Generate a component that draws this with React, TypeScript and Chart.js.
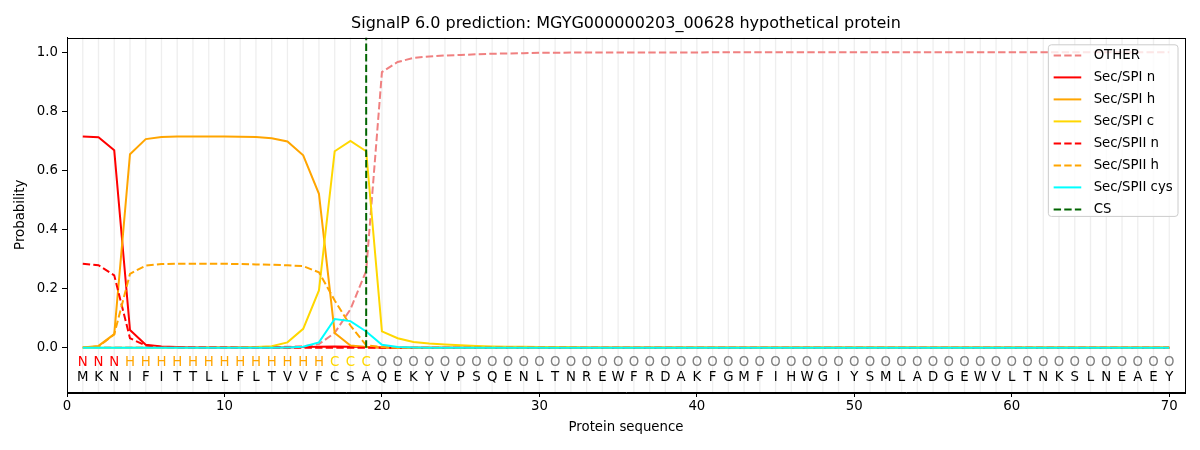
import React, { useEffect, useRef } from "react";
import { Chart, registerables } from "chart.js";

Chart.register(...registerables);

const TITLE = "SignalP 6.0 prediction: MGYG000000203_00628 hypothetical protein";
const SEQUENCE = "MKNIFITTLLFLTVVFCSAQEKYVPSQENLTNREWFRDAKFGMFIHWGIYSMLADGEWVLTNKSLNEAEY".split("");
const STATES = "NNNHHHHHHHHHHHHHCCCOOOOOOOOOOOOOOOOOOOOOOOOOOOOOOOOOOOOOOOOOOOOOOOOOOO".split("");
const X_TICKS = [0, 10, 20, 30, 40, 50, 60, 70];
const Y_TICKS = [0.0, 0.2, 0.4, 0.6, 0.8, 1.0];
const CS_POS = 19;

const OTHER = [
  0.001, 0.001, 0.001, 0.001, 0.001, 0.001, 0.001, 0.001, 0.001, 0.001,
  0.001, 0.001, 0.002, 0.003, 0.005, 0.012, 0.05, 0.13, 0.26, 0.933,
  0.967, 0.981, 0.986, 0.989, 0.991, 0.993, 0.995, 0.996, 0.997, 0.998,
  0.998, 0.999, 0.999, 0.999, 0.999, 0.999, 0.999, 0.999, 0.999, 0.999,
  1, 1, 1, 1, 1, 1, 1, 1, 1, 1,
  1, 1, 1, 1, 1, 1, 1, 1, 1, 1,
  1, 1, 1, 1, 1, 1, 1, 1, 1, 1,
];
const SPI_N = [
  0.715, 0.712, 0.668, 0.06, 0.01, 0.004, 0.002, 0.001, 0.001, 0.001,
  0.001, 0.001, 0.001, 0.001, 0.002, 0.003, 0.004, 0.003, 0.002, 0.001,
  0, 0, 0, 0, 0, 0, 0, 0, 0, 0,
  0, 0, 0, 0, 0, 0, 0, 0, 0, 0,
  0, 0, 0, 0, 0, 0, 0, 0, 0, 0,
  0, 0, 0, 0, 0, 0, 0, 0, 0, 0,
  0, 0, 0, 0, 0, 0, 0, 0, 0, 0,
];
const SPI_H = [
  0.001, 0.006, 0.046, 0.655, 0.706, 0.713, 0.715, 0.715, 0.715, 0.715,
  0.714, 0.713, 0.709, 0.698, 0.651, 0.521, 0.05, 0.007, 0.002, 0.001,
  0, 0, 0, 0, 0, 0, 0, 0, 0, 0,
  0, 0, 0, 0, 0, 0, 0, 0, 0, 0,
  0, 0, 0, 0, 0, 0, 0, 0, 0, 0,
  0, 0, 0, 0, 0, 0, 0, 0, 0, 0,
  0, 0, 0, 0, 0, 0, 0, 0, 0, 0,
];
const SPI_C = [
  0, 0, 0, 0, 0, 0, 0, 0, 0.001, 0.001,
  0.001, 0.002, 0.005, 0.018, 0.064, 0.194, 0.665, 0.7, 0.665, 0.055,
  0.032, 0.019, 0.014, 0.011, 0.008, 0.006, 0.004, 0.003, 0.003, 0.002,
  0.002, 0.002, 0.001, 0.001, 0.001, 0.001, 0.001, 0.001, 0.001, 0.001,
  0.001, 0.001, 0.001, 0.001, 0.001, 0.001, 0.001, 0.001, 0.001, 0.001,
  0.001, 0.001, 0.001, 0.001, 0.001, 0.001, 0.001, 0.001, 0.001, 0.001,
  0.001, 0.001, 0.001, 0.001, 0.001, 0.001, 0.001, 0.001, 0.001, 0.001,
];
const SPII_N = [
  0.284, 0.279, 0.245, 0.032, 0.007, 0.002, 0.001, 0.001, 0.001, 0.001,
  0, 0, 0, 0, 0, 0, 0, 0, 0, 0,
  0, 0, 0, 0, 0, 0, 0, 0, 0, 0,
  0, 0, 0, 0, 0, 0, 0, 0, 0, 0,
  0, 0, 0, 0, 0, 0, 0, 0, 0, 0,
  0, 0, 0, 0, 0, 0, 0, 0, 0, 0,
  0, 0, 0, 0, 0, 0, 0, 0, 0, 0,
];
const SPII_H = [
  0.001, 0.004, 0.045, 0.25, 0.278, 0.283, 0.284, 0.284, 0.284, 0.284,
  0.283, 0.282, 0.281, 0.279, 0.276, 0.255, 0.16, 0.075, 0.008, 0.002,
  0, 0, 0, 0, 0, 0, 0, 0, 0, 0,
  0, 0, 0, 0, 0, 0, 0, 0, 0, 0,
  0, 0, 0, 0, 0, 0, 0, 0, 0, 0,
  0, 0, 0, 0, 0, 0, 0, 0, 0, 0,
  0, 0, 0, 0, 0, 0, 0, 0, 0, 0,
];
const SPII_CYS = [
  0, 0, 0, 0, 0, 0, 0, 0, 0, 0,
  0, 0, 0, 0.001, 0.003, 0.018, 0.097, 0.09, 0.055, 0.01,
  0.002, 0.001, 0, 0, 0, 0, 0, 0, 0, 0,
  0, 0, 0, 0, 0, 0, 0, 0, 0, 0,
  0, 0, 0, 0, 0, 0, 0, 0, 0, 0,
  0, 0, 0, 0, 0, 0, 0, 0, 0, 0,
  0, 0, 0, 0, 0, 0, 0, 0, 0, 0,
];

const STATE_COLORS: Record<string, string> = {
  N: "#ff0000",
  H: "#ffa500",
  C: "#ffd700",
  O: "#808080",
};

const FONT = "'DejaVu Sans', sans-serif";
const DASH = [7.4, 3.2];

const toPts = (arr: number[]) => arr.map((v, i) => ({ x: i + 1, y: v }));

const residueGridPlugin = {
  id: "residueGrid",
  beforeDatasetsDraw(chart: any) {
    const { ctx, chartArea, scales } = chart;
    ctx.save();
    ctx.strokeStyle = "rgba(200,200,200,0.3)";
    ctx.lineWidth = 1.3;
    SEQUENCE.forEach((_, i) => {
      const x = scales.x.getPixelForValue(i + 1);
      ctx.beginPath();
      ctx.moveTo(x, chartArea.top);
      ctx.lineTo(x, chartArea.bottom);
      ctx.stroke();
    });
    ctx.restore();
  },
};

const lettersPlugin = {
  id: "letters",
  afterDatasetsDraw(chart: any) {
    const { ctx, scales, chartArea } = chart;
    ctx.save();
    ctx.font = `13.3px ${FONT}`;
    ctx.textAlign = "center";
    ctx.textBaseline = "middle";
    const yS = scales.y.getPixelForValue(-0.05);
    const yA = scales.y.getPixelForValue(-0.1);
    SEQUENCE.forEach((aa, i) => {
      const x = scales.x.getPixelForValue(i + 1);
      ctx.fillStyle = STATE_COLORS[STATES[i]];
      ctx.fillText(STATES[i], x, yS);
      ctx.fillStyle = "#000000";
      ctx.fillText(aa, x, yA);
    });
    // frame
    ctx.strokeStyle = "#000000";
    ctx.lineWidth = 1;
    ctx.strokeRect(
      Math.round(chartArea.left) + 0.5,
      Math.round(chartArea.top) + 0.5,
      Math.round(chartArea.right - chartArea.left),
      Math.round(chartArea.bottom - chartArea.top)
    );
    // title centred over the axes
    ctx.font = `16px ${FONT}`;
    ctx.fillStyle = "#000000";
    ctx.textBaseline = "middle";
    ctx.fillText(TITLE, (chartArea.left + chartArea.right) / 2, 23.5);
    ctx.restore();
  },
};

const legendPlugin = {
  id: "mplLegend",
  afterDraw(chart: any) {
    const { ctx, chartArea } = chart;
    const ds = chart.data.datasets;
    ctx.save();
    ctx.font = `13.3px ${FONT}`;
    const pad = 5.3;
    const handle = 27.6;
    const textPad = 12.4;
    const rowH = 22;
    let maxW = 0;
    ds.forEach((d: any) => {
      maxW = Math.max(maxW, ctx.measureText(d.label).width);
    });
    const w = pad + handle + textPad + maxW + pad;
    const h = 10.6 + rowH * (ds.length - 1) + 7;
    const right = chartArea.right - 7;
    const left = right - w;
    const top = chartArea.top + 7.3;
    ctx.beginPath();
    ctx.roundRect(left, top, w, h, 3);
    ctx.fillStyle = "rgba(255,255,255,0.8)";
    ctx.fill();
    ctx.strokeStyle = "#cccccc";
    ctx.lineWidth = 1;
    ctx.stroke();
    ds.forEach((d: any, i: number) => {
      const y = top + 10.6 + i * rowH;
      ctx.beginPath();
      ctx.strokeStyle = d.borderColor;
      ctx.lineWidth = 2;
      ctx.setLineDash(d.borderDash || []);
      ctx.moveTo(left + pad, y);
      ctx.lineTo(left + pad + handle, y);
      ctx.stroke();
      ctx.setLineDash([]);
      ctx.fillStyle = "#000000";
      ctx.textBaseline = "middle";
      ctx.textAlign = "left";
      ctx.fillText(d.label, left + pad + handle + textPad, y + 0.5);
    });
    ctx.restore();
  },
};

export default function App() {
  const ref = useRef<HTMLCanvasElement | null>(null);

  useEffect(() => {
    document.body.style.margin = "0";
    if (!ref.current) return;
    Chart.defaults.font.family = FONT;
    Chart.defaults.color = "#000000";

    const series = [
      { label: "OTHER", data: OTHER, color: "#f08080", dash: DASH },
      { label: "Sec/SPI n", data: SPI_N, color: "#ff0000", dash: [] },
      { label: "Sec/SPI h", data: SPI_H, color: "#ffa500", dash: [] },
      { label: "Sec/SPI c", data: SPI_C, color: "#ffd700", dash: [] },
      { label: "Sec/SPII n", data: SPII_N, color: "#ff0000", dash: DASH },
      { label: "Sec/SPII h", data: SPII_H, color: "#ffa500", dash: DASH },
      { label: "Sec/SPII cys", data: SPII_CYS, color: "#00ffff", dash: [] },
    ];

    const datasets: any[] = series.map((s, i) => ({
      label: s.label,
      data: toPts(s.data),
      borderColor: s.color,
      borderDash: s.dash,
      borderWidth: 2,
      pointRadius: 0,
      fill: false,
      tension: 0,
      order: 20 - i,
    }));
    datasets.push({
      label: "CS",
      data: [
        { x: CS_POS, y: 0 },
        { x: CS_POS, y: 1.05 },
      ],
      borderColor: "#006400",
      borderDash: DASH,
      borderWidth: 2,
      pointRadius: 0,
      fill: false,
      order: 1,
    });

    const chart = new Chart(ref.current, {
      type: "line",
      data: { datasets },
      plugins: [residueGridPlugin, lettersPlugin, legendPlugin],
      options: {
        animation: false,
        responsive: false,
        devicePixelRatio: 1,
        layout: { padding: { left: 0, right: 15, top: 37.5, bottom: 0 } },
        plugins: {
          legend: { display: false },
          tooltip: { enabled: false },
          title: { display: false },
        },
        scales: {
          x: {
            type: "linear",
            min: 0,
            max: 71,
            afterBuildTicks: (scale: any) => {
              scale.ticks = X_TICKS.map((v) => ({ value: v }));
            },
            afterFit: (scale: any) => {
              scale.height = 58;
            },
            ticks: {
              color: "#000000",
              font: { size: 13.3, family: FONT },
              padding: 2,
              maxRotation: 0,
              callback: (v: any) => String(v),
            },
            grid: {
              drawOnChartArea: false,
              drawTicks: true,
              tickLength: 5,
              tickColor: "#000000",
            },
            border: { display: true, color: "#000000", width: 1 },
            title: {
              display: true,
              text: "Protein sequence",
              color: "#000000",
              font: { size: 13.3, family: FONT },
              padding: { top: 0, bottom: 14 },
            },
          },
          y: {
            type: "linear",
            min: -0.15,
            max: 1.05,
            afterBuildTicks: (scale: any) => {
              scale.ticks = Y_TICKS.map((v) => ({ value: v }));
            },
            afterFit: (scale: any) => {
              scale.width = 67;
            },
            ticks: {
              color: "#000000",
              font: { size: 13.3, family: FONT },
              padding: 4,
              callback: (v: any) => Number(v).toFixed(1),
            },
            grid: {
              drawOnChartArea: false,
              drawTicks: true,
              tickLength: 5,
              tickColor: "#000000",
            },
            border: { display: true, color: "#000000", width: 1 },
            title: {
              display: true,
              text: "Probability",
              color: "#000000",
              font: { size: 13.3, family: FONT },
              padding: { top: 13, bottom: 0 },
            },
          },
        },
      },
    } as any);

    return () => chart.destroy();
  }, []);

  return (
    <div style={{ width: 1200, height: 450 }}>
      <canvas ref={ref} width={1200} height={450} style={{ display: "block", width: 1200, height: 450 }} />
    </div>
  );
}
